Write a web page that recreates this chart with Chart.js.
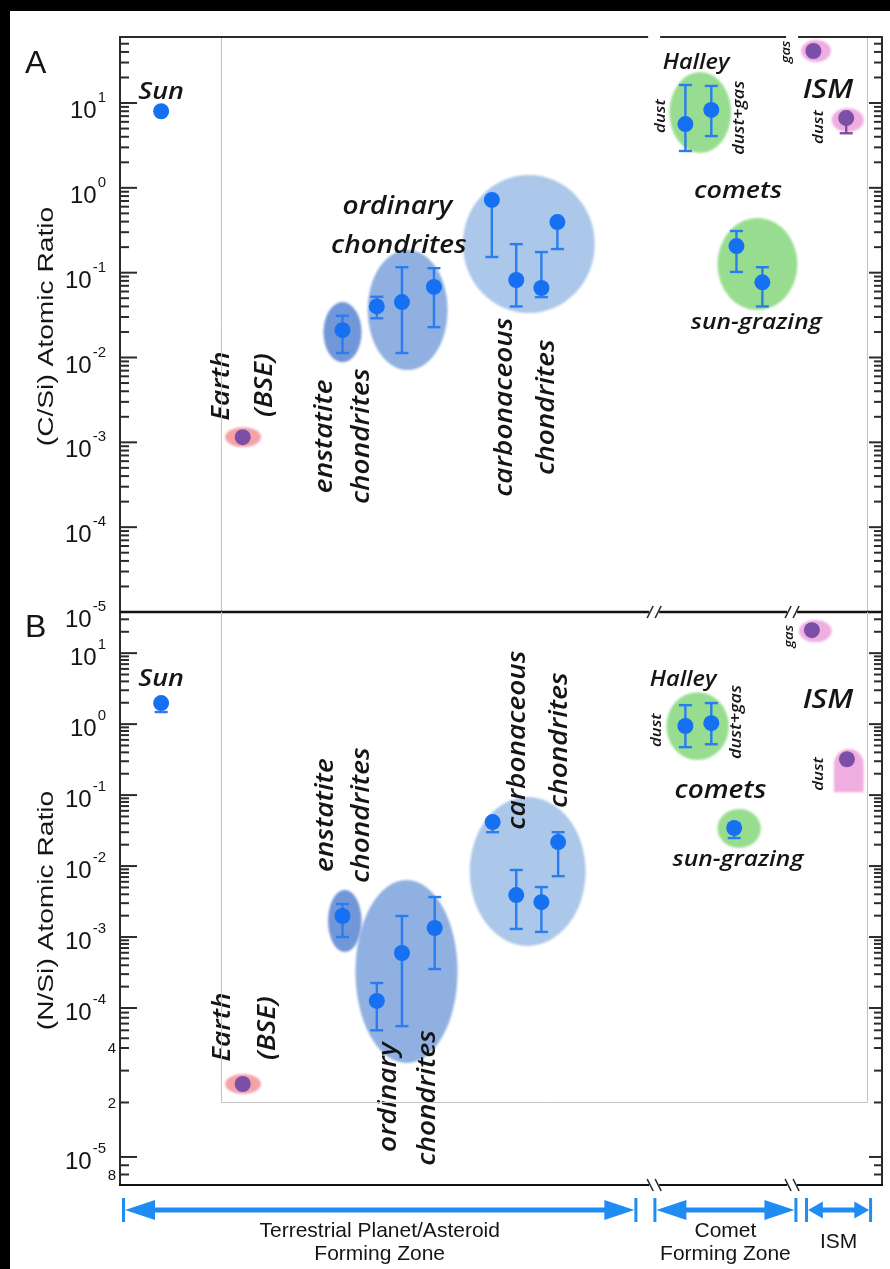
<!DOCTYPE html>
<html>
<head>
<meta charset="utf-8">
<title>C/Si and N/Si atomic ratios</title>
<script src="https://cdn.jsdelivr.net/npm/chart.js@4.4.1/dist/chart.umd.min.js"></script>
<style>
  html, body { margin: 0; padding: 0; background: #000; }
  #stage { position: relative; width: 890px; height: 1269px; overflow: hidden; }
  #paper { position: absolute; left: 10px; top: 11px; right: 0; bottom: 0; background: #fff; }
  #stage canvas { position: absolute; left: 0; top: 0; }
</style>
</head>
<body>
<div id="stage">
  <div id="paper"></div>
  <canvas id="chartCSi" width="890" height="1269"></canvas>
  <canvas id="chartNSi" width="890" height="1269"></canvas>
</div>
<script>
// ---------------------------------------------------------------------------
// Data. x = position of a sample along the formation-distance axis
// (0 = left edge, 100 = right edge; Sun on the left, interstellar medium on the right).
// ---------------------------------------------------------------------------

// Panel A: C/Si atomic ratio
const csiX    = [5.4, 16.1, 29.2, 33.7, 37.0, 41.2, 48.8, 52.0, 55.3, 57.4, 74.2, 77.6, 80.9, 84.3, 91.0, 95.3];
const csiVal  = [8.0, 1.15e-3, 0.021, 0.040, 0.045, 0.068, 0.72, 0.082, 0.066, 0.395, 5.65, 8.3, 0.206, 0.077, 41, 6.65];
const csiLow  = [null, null, 0.0113, 0.029, 0.0113, 0.0228, 0.153, 0.040, 0.0515, 0.19, 2.72, 4.08, 0.102, 0.040, null, 4.4];
const csiHigh = [null, null, 0.031, 0.052, 0.116, 0.113, null, 0.217, 0.175, null, 16.3, 15.9, 0.31, 0.116, null, null];
const csiKind = ['sun', 'earth', 'enstatite', 'ordinary', 'ordinary', 'ordinary',
                 'carbonaceous', 'carbonaceous', 'carbonaceous', 'carbonaceous',
                 'comet', 'comet', 'comet', 'comet', 'ism', 'ism'];

// Panel B: N/Si atomic ratio
const nsiX    = [5.4, 16.1, 29.2, 33.7, 37.0, 41.3, 48.9, 52.0, 55.3, 57.5, 74.2, 77.6, 80.6, 90.8, 95.4];
const nsiVal  = [1.98, 2.53e-5, 1.98e-3, 1.26e-4, 5.96e-4, 1.34e-3, 0.0417, 3.9e-3, 3.1e-3, 0.0218, 0.94, 1.03, 0.0343, 21.1, 0.32];
const nsiLow  = [1.48, null, 1.0e-3, 6.0e-5, 6.6e-5, 3.54e-4, 0.030, 1.3e-3, 1.18e-3, 7.2e-3, 0.474, 0.52, 0.0248, null, null];
const nsiHigh = [null, null, 2.92e-3, 2.25e-4, 1.98e-3, 3.66e-3, null, 8.8e-3, 5.06e-3, 0.030, 1.85, 1.98, 0.040, null, null];
const nsiKind = ['sun', 'earth', 'enstatite', 'ordinary', 'ordinary', 'ordinary',
                 'carbonaceous', 'carbonaceous', 'carbonaceous', 'carbonaceous',
                 'comet', 'comet', 'comet', 'ism', 'ism'];

// Shaded sample groups: [xFrom, xTo, yFrom, yTo, kind]
const csiGroups = [
  [13.8, 18.5, 8.8e-4, 1.51e-3, 'earth'],
  [26.7, 31.7, 8.8e-3, 0.045, 'enstatite'],
  [32.5, 43.0, 7.1e-3, 0.185, 'ordinary'],
  [45.0, 62.3, 0.0334, 1.42, 'carbonaceous'],
  [72.1, 80.2, 2.57, 23.2, 'comet'],
  [78.4, 88.9, 0.0362, 0.44, 'comet'],
  [89.4, 93.3, 30.4, 55.3, 'ism'],
  [93.4, 97.6, 4.55, 8.7, 'ism']
];
const nsiGroups = [
  [13.8, 18.5, 2.23e-5, 2.87e-5, 'earth'],
  [30.9, 44.3, 3.3e-5, 6.35e-3, 'ordinary'],
  [27.3, 31.7, 6.15e-4, 4.6e-3, 'enstatite'],
  [45.9, 61.1, 7.5e-4, 0.094, 'carbonaceous'],
  [71.7, 79.9, 0.311, 2.82, 'comet'],
  [78.4, 84.1, 0.018, 0.0635, 'comet'],
  [89.1, 93.4, 14.3, 29.2, 'ism'],
  [93.7, 97.6, 0.110, 0.445, 'ismBar']
];

// Annotations: [text, x, y, font size, vertical?]
const csiNotes = [
  ['Sun', 5.4, 13.5, 24, 0],
  ['Earth', 13.4, 4.6e-3, 25, 1],
  ['(BSE)', 19.0, 4.73e-3, 25, 1],
  ['enstatite', 26.9, 1.18e-3, 25, 1],
  ['chondrites', 31.8, 1.18e-3, 25, 1],
  ['ordinary', 36.4, 0.594, 25, 0],
  ['chondrites', 36.6, 0.206, 25, 0],
  ['carbonaceous', 50.5, 2.6e-3, 25, 1],
  ['chondrites', 56.0, 2.6e-3, 25, 1],
  ['Halley', 75.6, 29.6, 21, 0],
  ['dust', 70.9, 7.0, 15, 1],
  ['dust+gas', 81.3, 6.7, 16, 1],
  ['comets', 81.1, 0.92, 24, 0],
  ['sun-grazing', 83.5, 0.0255, 22, 0],
  ['gas', 87.4, 40, 13, 1],
  ['ISM', 92.9, 14.2, 27, 0],
  ['dust', 91.7, 5.2, 15, 1]
];
const nsiNotes = [
  ['Sun', 5.4, 4.3, 24, 0],
  ['Earth', 13.5, 6.46e-5, 25, 1],
  ['(BSE)', 19.4, 6.3e-5, 25, 1],
  ['enstatite', 27.0, 0.0522, 25, 1],
  ['chondrites', 31.7, 0.0522, 25, 1],
  ['ordinary', 35.3, 2.14e-5, 25, 1],
  ['chondrites', 40.4, 2.12e-5, 25, 1],
  ['carbonaceous', 52.2, 0.595, 25, 1],
  ['chondrites', 57.7, 0.595, 25, 1],
  ['Halley', 73.9, 4.17, 21, 0],
  ['dust', 70.4, 0.82, 15, 1],
  ['dust+gas', 80.9, 1.07, 16, 1],
  ['comets', 78.8, 0.114, 25, 0],
  ['sun-grazing', 81.1, 0.0122, 22, 0],
  ['gas', 87.8, 17.3, 13, 1],
  ['ISM', 92.9, 2.18, 27, 0],
  ['dust', 91.7, 0.198, 15, 1]
];

// Y tick decades (labelled 10^n) and the extra labelled ticks of the N/Si axis
const csiDecades = [-5, -4, -3, -2, -1, 0, 1];
const nsiDecades = [-5, -4, -3, -2, -1, 0, 1];
const nsiExtraTicks  = [4e-5, 2e-5, 8e-6];
const nsiExtraLabels = ['4', '2', '8'];

// Formation zones along the bottom
const zoneNames = [['Terrestrial Planet/Asteroid', 'Forming Zone'], ['Comet', 'Forming Zone'], ['ISM']];
const zoneStart = [0.26, 70.0, 89.9];
const zoneEnd   = [67.9, 88.9, 98.7];
const axisBreaks = [70.1, 88.2];

// ---------------------------------------------------------------------------
// A log scale whose decades are allotted different lengths between joints
// (the lower part of the N/Si axis is stretched).
// ---------------------------------------------------------------------------
class SegmentedLogScale extends Chart.LogarithmicScale {
  _anchors() {
    const pts = [[Math.log10(this.min), 0]];
    (this.options.joints || []).forEach(([v, d]) => pts.push([Math.log10(v), d]));
    pts.push([Math.log10(this.max), 1]);
    return pts;
  }
  getPixelForValue(value) {
    if (value === null || value === undefined || isNaN(value) || value <= 0) return NaN;
    const a = this._anchors();
    const lv = Math.log10(value);
    let i = 0;
    while (i < a.length - 2 && lv > a[i + 1][0]) i++;
    const [l0, d0] = a[i], [l1, d1] = a[i + 1];
    return this.getPixelForDecimal(d0 + (lv - l0) / (l1 - l0) * (d1 - d0));
  }
  getValueForPixel(pixel) {
    const d = this.getDecimalForPixel(pixel);
    const a = this._anchors();
    let i = 0;
    while (i < a.length - 2 && d > a[i + 1][1]) i++;
    const [l0, d0] = a[i], [l1, d1] = a[i + 1];
    return Math.pow(10, l0 + (d - d0) / (d1 - d0) * (l1 - l0));
  }
}
SegmentedLogScale.id = 'segmentedLog';
SegmentedLogScale.defaults = {};
Chart.register(SegmentedLogScale);

// ---------------------------------------------------------------------------
// Drawing
// ---------------------------------------------------------------------------
const LABEL_FONT = '"Open Sans", "DejaVu Sans", sans-serif';
const AXIS_FONT = '"Liberation Sans", Arial, sans-serif';
const BLUE = '#1670f2';
const BAR_BLUE = '#2a7df0';
const PURPLE = '#7b4ea8';
const ZONE_BLUE = '#1e8cf2';
const groupFill = {
  earth: '#f4a2a8', enstatite: '#7197d9', ordinary: '#8fb0e0', carbonaceous: '#abc7e9',
  comet: '#98dd8f', ism: '#efade0', ismBar: '#efade0'
};
const dotColor = k => (k === 'earth' || k === 'ism') ? PURPLE : BLUE;

function line(ctx, x1, y1, x2, y2) {
  ctx.beginPath(); ctx.moveTo(x1, y1); ctx.lineTo(x2, y2); ctx.stroke();
}

function breakMark(ctx, px, py, lean) {
  ctx.save();
  ctx.fillStyle = '#fff';
  ctx.fillRect(px - 5, py - 3, 10, 6);
  ctx.strokeStyle = '#2b2b2b'; ctx.lineWidth = 1.6;
  [-4, 4].forEach(dx => line(ctx, px + dx - 3 * lean, py + 6, px + dx + 3 * lean, py - 6));
  ctx.restore();
}

function panelPlugin(p) {
  return {
    id: 'panel_' + p.key,
    beforeDatasetsDraw(chart) {
      const { ctx, scales: { x, y } } = chart;
      p.groups.forEach(([x0, x1, y0, y1, kind]) => {
        const l = x.getPixelForValue(x0), r = x.getPixelForValue(x1);
        const t = y.getPixelForValue(y1), b = y.getPixelForValue(y0);
        ctx.save();
        ctx.filter = 'blur(1.2px)';
        ctx.fillStyle = groupFill[kind];
        ctx.beginPath();
        if (kind === 'ismBar') {
          const rad = (r - l) / 2;
          ctx.moveTo(l, b); ctx.lineTo(l, t + rad);
          ctx.arc(l + rad, t + rad, rad, Math.PI, 0);
          ctx.lineTo(r, b); ctx.closePath();
        } else {
          ctx.ellipse((l + r) / 2, (t + b) / 2, (r - l) / 2, (b - t) / 2, 0, 0, Math.PI * 2);
        }
        ctx.fill();
        ctx.restore();
      });
      // error bars
      ctx.save();
      ctx.lineWidth = 2.4;
      p.xs.forEach((xv, i) => {
        const lo = p.low[i], hi = p.high[i];
        if (lo == null && hi == null) return;
        const px = x.getPixelForValue(xv);
        const pv = y.getPixelForValue(p.val[i]);
        const pl = lo == null ? pv : y.getPixelForValue(lo);
        const ph = hi == null ? pv : y.getPixelForValue(hi);
        ctx.strokeStyle = dotColor(p.kind[i]) === BLUE ? BAR_BLUE : PURPLE;
        line(ctx, px, ph, px, pl);
        if (lo != null) line(ctx, px - 6.5, pl, px + 6.5, pl);
        if (hi != null) line(ctx, px - 6.5, ph, px + 6.5, ph);
      });
      ctx.restore();
    },
    afterDatasetsDraw(chart) {
      const { ctx, scales: { x, y } } = chart;
      ctx.save();
      ctx.fillStyle = '#151515';
      ctx.textAlign = 'center';
      ctx.textBaseline = 'middle';
      p.notes.forEach(([text, xv, yv, size, vertical]) => {
        ctx.save();
        ctx.translate(x.getPixelForValue(xv), y.getPixelForValue(yv));
        if (vertical) ctx.rotate(-Math.PI / 2);
        ctx.scale(1.12, 1);
        ctx.font = `italic 600 ${size}px ${LABEL_FONT}`;
        ctx.fillText(text, 0, 0);
        ctx.restore();
      });
      ctx.restore();
    },
    afterDraw(chart) {
      const { ctx, chartArea: a, scales: { x, y } } = chart;
      ctx.save();

      // faint inner frame
      ctx.strokeStyle = '#c2c2c2'; ctx.lineWidth = 1;
      const fx0 = Math.round(x.getPixelForValue(13.24)) + 0.5;
      const fx1 = Math.round(x.getPixelForValue(98.0)) + 0.5;
      const fyb = p.innerFloor ? Math.round(y.getPixelForValue(p.innerFloor)) + 0.5 : a.bottom;
      line(ctx, fx0, a.top, fx0, fyb);
      line(ctx, fx1, a.top, fx1, fyb);
      if (p.innerFloor) line(ctx, fx0, fyb, fx1, fyb);

      // inward ticks on both vertical axes
      ctx.strokeStyle = '#2b2b2b'; ctx.lineWidth = 2;
      const tick = (v, lenL, lenR) => {
        const py = y.getPixelForValue(v);
        if (!(py > a.top + 1 && py < a.bottom - 1) && Math.abs(py - a.bottom) > 1) return;
        line(ctx, a.left, py, a.left + lenL, py);
        line(ctx, a.right, py, a.right - lenR, py);
      };
      const lowest = Math.min(...p.decades) - 1, highest = Math.max(...p.decades);
      for (let e = lowest; e <= highest; e++) {
        for (let m = 2; m <= 9; m++) {
          const v = m * Math.pow(10, e);
          if (v > y.min * 1.0001 && v < y.max) tick(v, 9, 8);
        }
      }
      p.decades.forEach(e => tick(Math.pow(10, e), 17, 13));

      // axis lines
      line(ctx, a.left, a.top, a.left, a.bottom);
      line(ctx, a.right, a.top, a.right, a.bottom);
      if (p.drawTop) {
        line(ctx, a.left - 1, a.top, a.right + 1, a.top);
        ctx.fillStyle = '#fff';
        axisBreaks.forEach(b => ctx.fillRect(x.getPixelForValue(b) - 6, a.top - 2, 12, 4));
      }
      ctx.lineWidth = p.bottomWidth;
      ctx.strokeStyle = '#111';
      line(ctx, a.left - 1, a.bottom, a.right + 1, a.bottom);
      axisBreaks.forEach(b => breakMark(ctx, x.getPixelForValue(b), a.bottom, p.breakLean));

      // tick labels 10^n
      ctx.fillStyle = '#151515';
      ctx.textBaseline = 'alphabetic';
      const right = a.left - 14;
      p.decades.forEach(e => {
        const py = y.getPixelForValue(Math.pow(10, e));
        const ex = String(e);
        ctx.font = `15px ${AXIS_FONT}`;
        ctx.textAlign = 'right';
        ctx.fillText(ex, right, py + p.expDy);
        const ew = ctx.measureText(ex).width;
        ctx.font = `24px ${AXIS_FONT}`;
        ctx.fillText('10', right - ew - 1, py + p.baseDy);
      });
      (p.extraTicks || []).forEach((v, i) => {
        const py = y.getPixelForValue(v);
        ctx.font = `15px ${AXIS_FONT}`;
        ctx.textAlign = 'right';
        ctx.textBaseline = 'middle';
        ctx.fillText(p.extraLabels[i], a.left - 4, py + 1);
      });

      // axis title
      ctx.save();
      ctx.translate(a.left - 73, (a.top + a.bottom) / 2 + p.titleDy);
      ctx.rotate(-Math.PI / 2);
      ctx.scale(1.28, 1);
      ctx.font = `22px ${AXIS_FONT}`;
      ctx.textAlign = 'center';
      ctx.textBaseline = 'middle';
      ctx.fillText(p.title, 0, 0);
      ctx.restore();

      // panel letter
      ctx.font = `32px ${AXIS_FONT}`;
      ctx.textAlign = 'left';
      ctx.textBaseline = 'alphabetic';
      ctx.fillText(p.letter, a.left - 95, a.top + p.letterDy);

      // formation zones
      if (p.zones) {
        const ya = a.bottom + 25;
        zoneStart.forEach((z0, i) => {
          const x0 = x.getPixelForValue(z0), x1 = x.getPixelForValue(zoneEnd[i]);
          const head = Math.min(30, (x1 - x0) * 0.22);
          const half = head < 30 ? 8.5 : 10;
          ctx.strokeStyle = ZONE_BLUE; ctx.fillStyle = ZONE_BLUE;
          ctx.lineWidth = 5;
          line(ctx, x0 + head, ya, x1 - head, ya);
          ctx.lineWidth = 3;
          line(ctx, x0 + 1.5, ya - 12, x0 + 1.5, ya + 12);
          line(ctx, x1 - 1.5, ya - 12, x1 - 1.5, ya + 12);
          ctx.beginPath();
          ctx.moveTo(x0 + 3, ya); ctx.lineTo(x0 + 3 + head, ya - half); ctx.lineTo(x0 + 3 + head, ya + half);
          ctx.closePath(); ctx.fill();
          ctx.beginPath();
          ctx.moveTo(x1 - 3, ya); ctx.lineTo(x1 - 3 - head, ya - half); ctx.lineTo(x1 - 3 - head, ya + half);
          ctx.closePath(); ctx.fill();

          ctx.fillStyle = '#151515';
          ctx.font = `21px ${AXIS_FONT}`;
          ctx.textAlign = 'center';
          ctx.textBaseline = 'alphabetic';
          const rows = zoneNames[i];
          const base = rows.length === 1 ? ya + 38 : ya + 27;
          rows.forEach((s, k) => ctx.fillText(s, (x0 + x1) / 2, base + k * 23));
        });
      }
      ctx.restore();
    }
  };
}

function buildPanel(canvasId, p, yScale) {
  return new Chart(document.getElementById(canvasId), {
    type: 'scatter',
    data: {
      datasets: [{
        data: p.xs.map((xv, i) => ({ x: xv, y: p.val[i] })),
        pointRadius: 8,
        pointHoverRadius: 8,
        pointBorderWidth: 0,
        pointBackgroundColor: p.kind.map(dotColor)
      }]
    },
    options: {
      responsive: false,
      animation: false,
      devicePixelRatio: 1,
      events: [],
      layout: { padding: p.padding },
      plugins: { legend: { display: false }, tooltip: { enabled: false } },
      scales: {
        x: { type: 'linear', min: 0, max: 100, display: false },
        y: Object.assign({ display: false }, yScale)
      }
    },
    plugins: [panelPlugin(p)]
  });
}

buildPanel('chartCSi', {
  key: 'csi', xs: csiX, val: csiVal, low: csiLow, high: csiHigh, kind: csiKind,
  groups: csiGroups, notes: csiNotes, decades: csiDecades,
  title: '(C/Si) Atomic Ratio', letter: 'A', letterDy: 36, titleDy: 2,
  baseDy: 15, expDy: -1, drawTop: true, bottomWidth: 2.6, breakLean: 1,
  padding: { left: 120, right: 7, top: 37, bottom: 657 }
}, { type: 'logarithmic', min: 1e-5, max: 60 });

buildPanel('chartNSi', {
  key: 'nsi', xs: nsiX, val: nsiVal, low: nsiLow, high: nsiHigh, kind: nsiKind,
  groups: nsiGroups, notes: nsiNotes, decades: nsiDecades,
  extraTicks: nsiExtraTicks, extraLabels: nsiExtraLabels,
  title: '(N/Si) Atomic Ratio', letter: 'B', letterDy: 25, titleDy: 12,
  baseDy: 12, expDy: -4, drawTop: false, bottomWidth: 2, breakLean: -1,
  innerFloor: 2e-5, zones: true,
  padding: { left: 120, right: 7, top: 612, bottom: 84 }
}, { type: 'segmentedLog', min: 7e-6, max: 38, joints: [[4e-5, 0.2391], [1e-4, 0.3089]] });
</script>
</body>
</html>
